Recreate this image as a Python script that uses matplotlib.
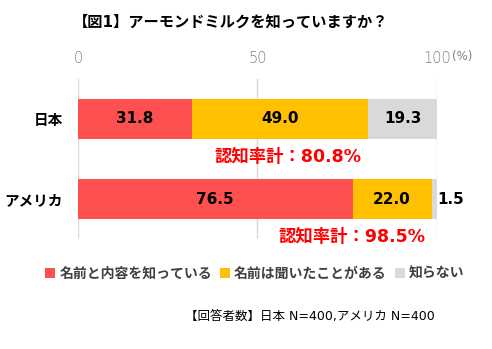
import matplotlib
matplotlib.use("Agg")
from matplotlib import pyplot as plt
import numpy as np

plt.rcParams["font.family"] = ["DejaVu Sans", "Noto Sans CJK JP"]

categories = ["日本", "アメリカ"]
known = [31.8, 76.5]
heard = [49.0, 22.0]
unknown = [19.3, 1.5]
awareness = [80.8, 98.5]
series_names = ["名前と内容を知っている", "名前は聞いたことがある", "知らない"]
colors = ["#FF5050", "#FFC000", "#D9D9D9"]
xticks = [0, 50, 100]

title = "【図1】アーモンドミルクを知っていますか？"
note = "【回答者数】日本 N=400,アメリカ N=400"

fig = plt.figure(figsize=(4.92, 3.49), dpi=100)
ax = fig.add_axes([0.1585, 0.315, 0.7295, 0.459])

y = np.arange(len(categories))
left = np.zeros(len(categories))
bars = []
for vals, name, c in zip([known, heard, unknown], series_names, colors):
    b = ax.barh(y, vals, left=left, height=0.49, color=c, label=name, zorder=2)
    bars.append(b)
    for yi, v, l in zip(y, vals, left):
        if v >= 5:
            ax.text(l + v / 2, yi, f"{v:.1f}", ha="center", va="center",
                    fontsize=11, fontweight="bold", color="black", zorder=3)
        else:
            ax.text(l + v + 0.2, yi, f"{v:.1f}", ha="left", va="center",
                    fontsize=11, fontweight="bold", color="black", zorder=3)
    left = left + np.array(vals)

# awareness totals under each bar
for yi, a, off in zip(y, awareness, [0.47, 0.48]):
    ax.text(a - 1.8, yi + off, f"認知率計：{a}%", ha="right", va="center",
            fontsize=12.5, fontweight="bold", color="#FF0000", clip_on=False)

ax.set_xlim(0, 100)
ax.set_ylim(1.5, -0.5)
ax.set_yticks(y)
ax.set_yticklabels(categories, fontsize=10.5, fontweight="bold")
ax.xaxis.tick_top()
ax.set_xticks(xticks)
ax.set_xticklabels([str(t) for t in xticks], fontsize=10.5, color="#7F7F7F",
                   fontweight="light")
ax.tick_params(axis="x", length=0, pad=9)
ax.tick_params(axis="y", length=0, pad=11)
for s in ax.spines.values():
    s.set_visible(False)
ax.grid(axis="x", color="#D9D9D9", lw=1, zorder=0)
ax.annotate("(%)", xy=(1, 1), xycoords="axes fraction", xytext=(11, 16),
            textcoords="offset points", fontsize=8.5, color="#7F7F7F",
            ha="left", va="center")

fig.text(0.468, 0.936, title, ha="center", va="center", fontsize=11,
         fontweight="bold", color="black")
fig.legend(handles=bars, loc="center", bbox_to_anchor=(0.518, 0.215), ncol=3,
           frameon=False, handlelength=0.7, handleheight=0.7, handletextpad=0.3,
           columnspacing=0.6, prop={"size": 10, "weight": "bold"},
           labelcolor="#404040")
fig.text(0.63, 0.092, note, ha="center", va="center", fontsize=9,
         color="black")

fig.savefig("out.png", dpi=100)
